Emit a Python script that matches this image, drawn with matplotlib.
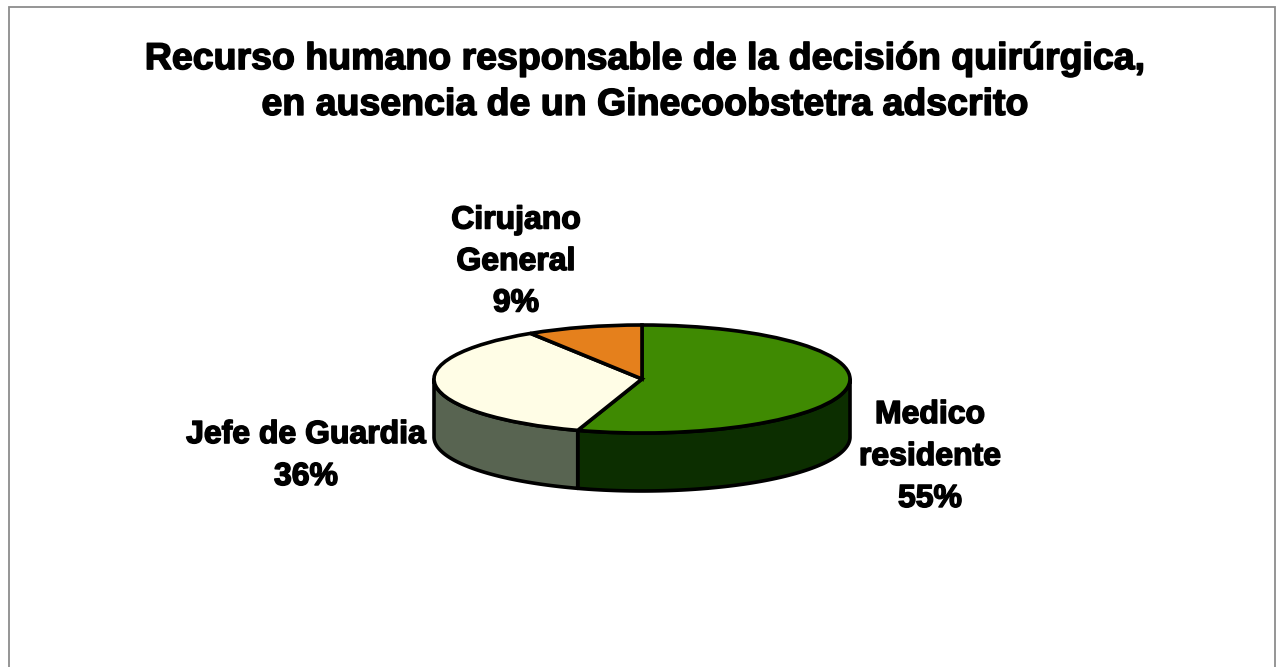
import numpy as np
import matplotlib
matplotlib.use('Agg')
import matplotlib.pyplot as plt
import matplotlib.patheffects as pe
from matplotlib.patches import Rectangle

# Slice values, clockwise from twelve o'clock
categories = ['Medico\nresidente', 'Jefe de Guardia', 'Cirujano\nGeneral']
values = [55, 36, 9]
top_colors = ['#3f8a02', '#fffde6', '#e5801c']
side_colors = ['#0c2e00', '#586451', '#8a4d10']
title = 'Recurso humano responsable de la decisión quirúrgica,\nen ausencia de un Ginecoobstetra adscrito'

W, H = 1281, 667
plt.rcParams['font.family'] = ['Liberation Sans', 'DejaVu Sans']

fig = plt.figure(figsize=(W / 100, H / 100), dpi=100, facecolor='white')

# Frame around the chart area
fig.add_artist(Rectangle((9 / W, -0.02), 1266 / W, 1.02 - 7 / H, transform=fig.transFigure,
                         fill=False, edgecolor='#8c8c8c', linewidth=1.3))

# Pie disc size in pixels
cx, cy, rx, ry, depth = 642, 379, 208, 54, 58
ax = fig.add_axes([(cx - rx) / W, 1 - (cy + ry + depth) / H, 2 * rx / W, (2 * ry + depth) / H])

ax.pie(values, colors=top_colors, startangle=90, counterclock=False, radius=1,
       wedgeprops=dict(edgecolor='black', linewidth=2.6, zorder=3))
ax.set_aspect('auto')
ax.set_xlim(-1, 1)
ax.set_ylim(-1 - depth / ry, 1)
for w in ax.patches:
    w.set_clip_on(False)

# Side wall: only the part of each slice on the front half is visible
d = depth / ry
edges = np.concatenate([[0], np.cumsum(values)]) / sum(values) * 2 * np.pi
for i in range(len(values)):
    a0, a1 = max(edges[i], np.pi / 2), min(edges[i + 1], 3 * np.pi / 2)
    if a1 <= a0:
        continue
    t = np.linspace(a0, a1, 120)
    x = np.sin(t)
    y = np.cos(t)
    ax.fill(np.r_[x, x[::-1]], np.r_[y, y[::-1] - d], facecolor=side_colors[i],
            edgecolor='black', linewidth=2.6, zorder=1, clip_on=False, joinstyle='round')

heavy = [pe.withStroke(linewidth=1.1, foreground='black')]


def put(px, py, s, size, spacing):
    fig.text(px / W, 1 - py / H, s, ha='center', va='center', fontsize=size, fontweight='bold',
             color='black', linespacing=spacing, path_effects=heavy)


put(645, 82, title, 27, 1.35)
put(930, 457, categories[0] + '\n55%', 23, 1.52)
put(306, 456, categories[1] + '\n36%', 23, 1.52)
put(516, 262, categories[2] + '\n9%', 23, 1.5)

fig.savefig('out.png', dpi=100)
